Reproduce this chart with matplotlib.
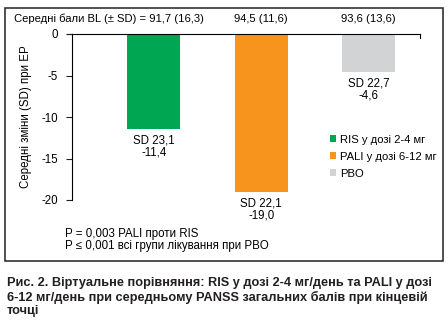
import numpy as np
import matplotlib
matplotlib.use("Agg")
import matplotlib.pyplot as plt
from matplotlib.patches import Rectangle

plt.rcParams['font.family'] = ['Liberation Sans Narrow', 'Liberation Sans', 'DejaVu Sans']
plt.rcParams['font.size'] = 7.8

# дані
groups = ["RIS у дозі 2-4 мг", "PALI у дозі 6-12 мг", "PBO"]
changes = [-11.4, -19.0, -4.6]
sd_change = ["23,1", "22,1", "22,7"]
baseline = ["91,7 (16,3)", "94,5 (11,6)", "93,6 (13,6)"]
colors = ["#00a651", "#f7941d", "#d1d3d4"]
y_ticks = [0, -5, -10, -15, -20]

W, H = 448, 327
fig = plt.figure(figsize=(W / 100, H / 100), dpi=100)

# рамка навколо діаграми
fig.patches.append(Rectangle((5 / W, 1 - 261 / H), 438 / W, 253 / H,
                             transform=fig.transFigure, fill=False,
                             edgecolor="#231f20", linewidth=1.1))

ax = fig.add_axes([72 / W, 1 - 200 / H, 348 / W, 166 / H])
x = np.arange(len(groups))
bars = ax.bar(x, changes, width=0.495, color=colors, label=groups)

ax.set_xlim(-0.762, 2.48)
ax.set_ylim(-20, 0)
ax.set_yticks(y_ticks)
ax.set_yticklabels([str(t) if t == 0 else "-%d" % -t for t in y_ticks])
ax.set_xticks([])
ax.tick_params(axis='y', direction='out', length=4, width=0.8, pad=6,
               labelsize=8.3, color="#231f20")
ax.spines['bottom'].set_visible(False)
for s in ['left', 'top', 'right']:
    ax.spines[s].set_linewidth(0.8)
ax.spines['right'].set_bounds(-0.5, 0)
ax.spines['top'].set_zorder(3)
# лінія нуля з невеликим виступом ліворуч
ax.plot([-0.81, -0.762], [0, 0], color="#231f20", lw=0.8, clip_on=False)

ax.set_ylabel("Середні зміни (SD) при ЕР", fontsize=8.3, labelpad=7)

for xi, v, sd in zip(x, changes, sd_change):
    ax.annotate("SD %s\n%s" % (sd, ("%.1f" % v).replace(".", ",")),
                xy=(xi, v), xytext=(0, -4), textcoords="offset points",
                ha="center", va="top", fontsize=8.3, linespacing=1.0)

# базові бали над стовпцями
fig.text(14 / W, 1 - 19 / H, "Середні бали BL (± SD) = " + baseline[0],
         ha="left", va="center", fontsize=8.1)
for xi, b in zip(x[1:], baseline[1:]):
    ax.annotate(b, xy=(xi, 0), xytext=(0, 10.6), textcoords="offset points",
                ha="center", va="center", fontsize=8.1)

ax.legend(loc="upper left", bbox_to_anchor=(0.728, 0.42), frameon=False,
          handlelength=0.55, handleheight=0.55, handletextpad=0.35,
          labelspacing=0.62, fontsize=8.1, borderaxespad=0)

fig.text(65 / W, 1 - 239.5 / H,
         "P = 0,003 PALI проти RIS\nP ≤ 0,001 всі групи лікування при PBO",
         ha="left", va="center", fontsize=8.3, linespacing=1.0)

fig.text(7 / W, 1 - 297 / H,
         "Рис. 2. Віртуальне порівняння: RIS у дозі 2-4 мг/день та PALI у дозі\n"
         "6-12 мг/день при середньому PANSS загальних балів при кінцевій\n"
         "точці",
         ha="left", va="center", fontsize=9.2, fontweight="bold",
         linespacing=1.15, color="#231f20")

fig.savefig("out.png", dpi=100)
